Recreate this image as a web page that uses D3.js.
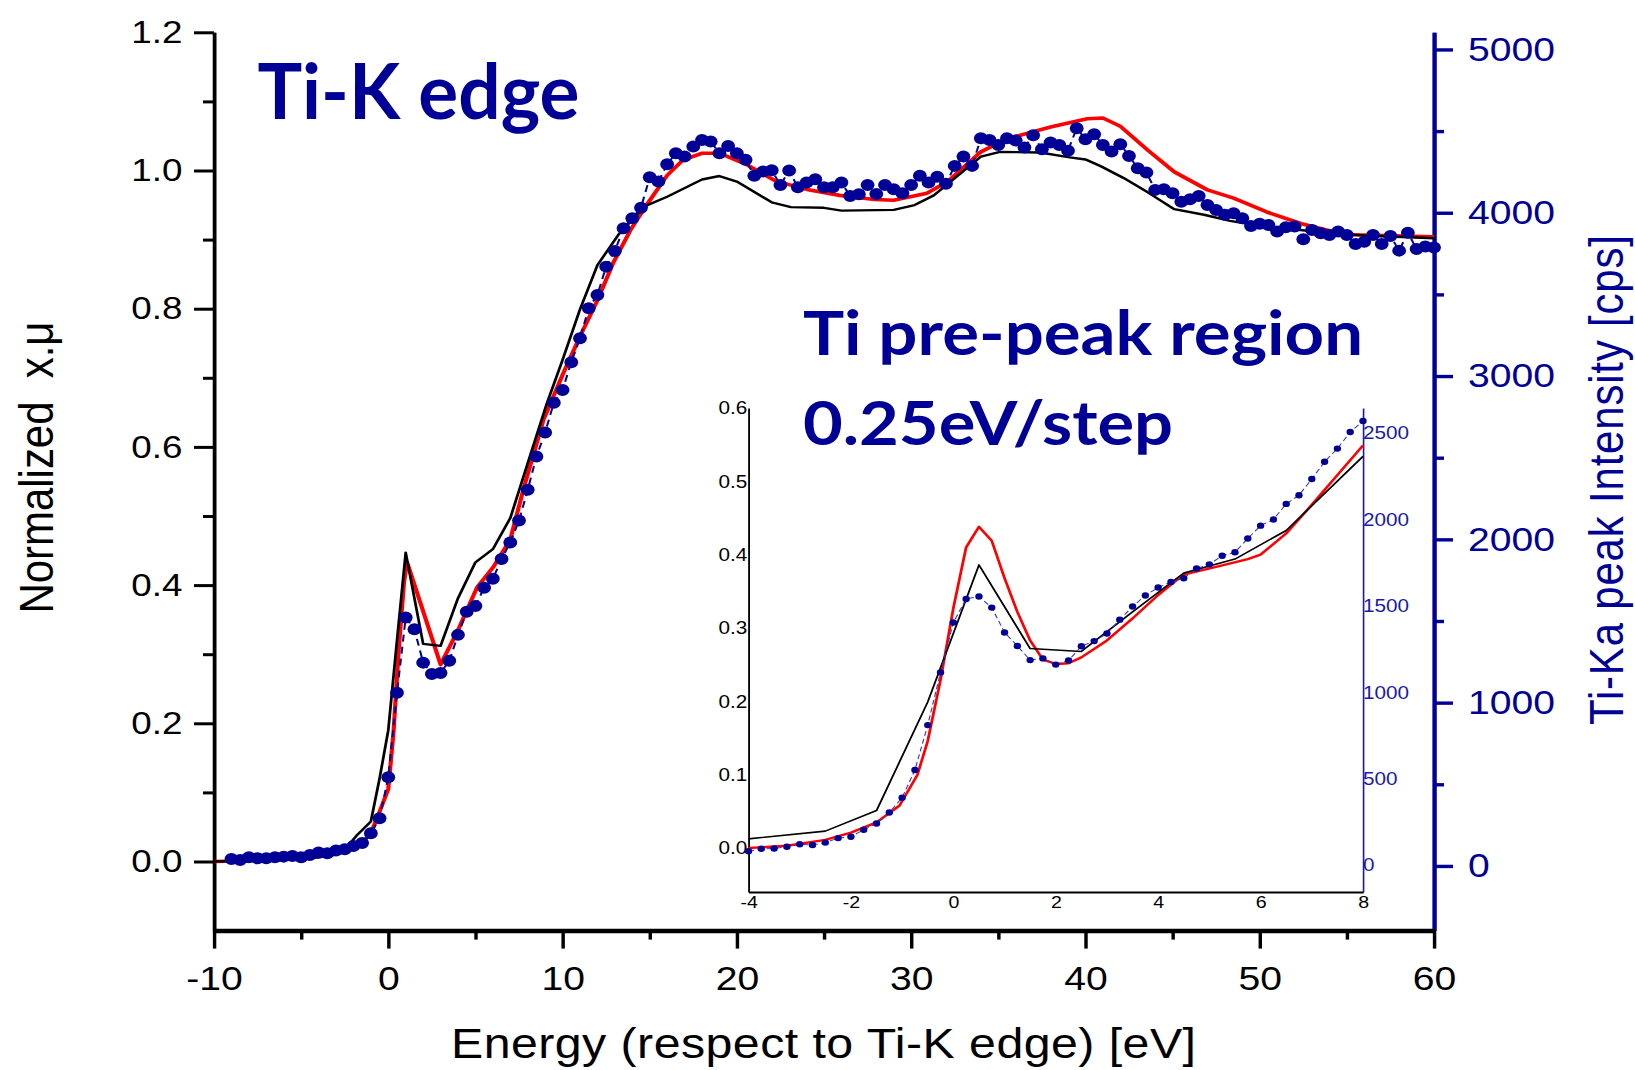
<!DOCTYPE html>
<html>
<head>
<meta charset="utf-8">
<script src="https://cdn.jsdelivr.net/npm/d3@7"></script>
<style>
  body { margin: 0; background: #fff; }
  svg { display: block; font-family: "Liberation Sans", Arial, sans-serif; }
</style>
</head>
<body>
<div class="chart"></div>
<script>
// ---- main plot data (energy in eV, normalized x.mu) ----
var blackMain = [[-10,0.0],[-6,0.002],[-4,0.006],[-3,0.01],[-2.5,0.017],[-1.8,0.038],[-1.0,0.058],[-0.5,0.12],
  [0,0.19],[0.5,0.32],[1.0,0.447],[2.0,0.315],[3.0,0.312],[4.0,0.381],[5.0,0.433],[6.0,0.452],[7.0,0.497],
  [8.3,0.60],[9.1,0.663],[10.0,0.726],[11.0,0.799],[12.0,0.863],[13.2,0.907],[14.7,0.948],[16.0,0.962],
  [18.0,0.987],[19.0,0.992],[20.0,0.984],[22.0,0.954],[23.1,0.947],[25.0,0.946],[26.0,0.942],[29.0,0.943],
  [30.2,0.950],[31.3,0.964],[32.7,0.993],[34.0,1.020],[35.1,1.027],[37.4,1.026],[39.1,1.019],[40.0,1.016],
  [40.9,1.006],[42.2,0.989],[43.6,0.968],[45.1,0.944],[46.8,0.936],[48.3,0.927],[50,0.92],[53,0.912],
  [56,0.906],[60,0.902]];

var redMain = [[-10,0.0],[-8,0.001],[-6,0.003],[-4,0.007],[-3,0.011],[-2,0.018],[-1.4,0.028],[-0.85,0.05],
  [-0.5,0.072],[0,0.105],[0.3,0.187],[0.6,0.307],[0.9,0.404],[1.08,0.433],[3.0,0.285],[3.95,0.332],
  [5.1,0.397],[6.05,0.427],[7.0,0.466],[7.8,0.543],[8.9,0.639],[10.05,0.707],[11.0,0.76],[12.0,0.812],
  [12.9,0.866],[13.9,0.914],[14.9,0.953],[16.0,0.993],[16.9,1.015],[18.0,1.025],[19.0,1.025],[20.6,1.008],
  [22.2,0.985],[24.1,0.972],[25.9,0.964],[27.9,0.958],[29.0,0.957],[30.9,0.967],[32.1,0.984],[34.0,1.027],
  [35.5,1.046],[38.0,1.063],[40.1,1.075],[41.0,1.076],[42.0,1.064],[43.6,1.029],[45.1,0.998],[47.0,0.972],
  [48.5,0.960],[50.4,0.940],[52.4,0.923],[54.3,0.911],[55.4,0.907],[60,0.904]];

// measured Ti-Ka intensity, cps (right axis)
var dotsMain = [[-9,43],[-8.5,37],[-8,53],[-7.5,47],[-7,47],[-6.5,53],[-6,57],[-5.5,61],[-5,53],[-4.5,67],
  [-4,82],[-3.5,78],[-3,94],[-2.5,102],[-2,122],[-1.5,141],[-1,200],[-0.5,292],[0,543],[0.5,1061],
  [1,1521],[1.5,1449],[2,1245],[2.5,1176],[3,1182],[3.5,1257],[4,1415],[4.5,1557],[5,1592],[5.5,1704],
  [6,1758],[6.5,1880],[7,1980],[7.5,2115],[8,2303],[8.5,2507],[9,2654],[9.5,2837],[10,2915],[10.5,3085],
  [11,3232],[11.5,3415],[12,3497],[12.5,3670],[13,3766],[13.5,3905],[14,3967],[14.5,4031],[15,4218],
  [15.5,4191],[16,4297],[16.5,4365],[17,4344],[17.5,4405],[18,4446],[18.5,4436],[19,4365],[19.5,4409],
  [20,4365],[20.5,4324],[21,4226],[21.5,4252],[22,4260],[22.5,4170],[23,4258],[23.5,4156],[24,4185],
  [24.5,4205],[25,4156],[25.5,4156],[26,4185],[26.5,4103],[27,4113],[27.5,4170],[28,4115],[28.5,4170],
  [29,4144],[29.5,4120],[30,4170],[30.5,4226],[31,4185],[31.5,4221],[32,4177],[32.5,4287],[33,4344],
  [33.5,4287],[34,4456],[34.5,4446],[35,4415],[35.5,4456],[36,4442],[36.5,4399],[37,4475],[37.5,4389],
  [38,4430],[38.5,4415],[39,4380],[39.5,4518],[40,4450],[40.5,4481],[41,4415],[41.5,4375],[42,4420],
  [42.5,4348],[43,4273],[43.5,4246],[44,4140],[44.5,4144],[45,4120],[45.5,4068],[46,4083],[46.5,4103],
  [47,4048],[47.5,4017],[48,3987],[48.5,3997],[49,3967],[49.5,3919],[50,3932],[50.5,3925],[51,3885],
  [51.5,3911],[52,3915],[52.5,3838],[53,3895],[53.5,3875],[54,3864],[54.5,3885],[55,3864],[55.5,3809],
  [56,3823],[56.5,3864],[57,3809],[57.5,3858],[58,3768],[58.5,3878],[59,3778],[59.5,3793],[60,3787]];

// ---- inset data (pre-peak region, 0.25 eV/step) ----
var blackInset = [[-4,0.0125],[-2.5,0.023],[-1.5,0.051],[-0.5,0.199],[0.5,0.386],[1.5,0.272],[2.5,0.268],
  [3.5,0.322],[4.5,0.375],[5.5,0.394],[6.5,0.433],[8,0.534]];

var redInset = [[-4,0.0],[-3.25,0.003],[-2.5,0.011],[-2,0.021],[-1.5,0.035],[-1.05,0.058],[-0.7,0.10],
  [-0.5,0.146],[-0.25,0.229],[0,0.327],[0.25,0.41],[0.5,0.438],[0.75,0.419],[1.0,0.368],[1.25,0.322],
  [1.5,0.283],[1.75,0.257],[2.0,0.251],[2.25,0.252],[2.5,0.26],[3.0,0.283],[3.5,0.313],[4.0,0.345],
  [4.5,0.373],[5.05,0.382],[5.75,0.394],[6.0,0.40],[6.5,0.429],[7.0,0.468],[8.0,0.549]];

var dotsInset = [[-4,80],[-3.75,94],[-3.5,96],[-3.25,106],[-3,120],[-2.75,116],[-2.5,130],[-2.25,156],
  [-2,164],[-1.75,204],[-1.5,240],[-1.25,304],[-1,390],[-0.75,550],[-0.5,810],[-0.25,1114],[0,1404],
  [0.25,1540],[0.5,1554],[0.75,1490],[1,1346],[1.25,1268],[1.5,1186],[1.75,1196],[2,1160],[2.25,1184],
  [2.5,1266],[2.75,1296],[3,1340],[3.25,1420],[3.5,1496],[3.75,1560],[4,1606],[4.25,1638],[4.5,1660],
  [4.75,1716],[5,1740],[5.25,1790],[5.5,1810],[5.75,1890],[6,1964],[6.25,2000],[6.5,2090],[6.75,2140],
  [7,2234],[7.25,2334],[7.5,2410],[7.75,2506],[8,2570]];

// ---- tick values ----
var xTicks = [-10, 0, 10, 20, 30, 40, 50, 60];
var xMinor = [-5, 5, 15, 25, 35, 45, 55];
var yTicks = [0, 0.2, 0.4, 0.6, 0.8, 1.0, 1.2];
var yMinor = [0.1, 0.3, 0.5, 0.7, 0.9, 1.1];
var cpsTicks = [0, 1000, 2000, 3000, 4000, 5000];
var cpsMinor = [500, 1500, 2500, 3500, 4500];
var insetXTicks = [-4, -2, 0, 2, 4, 6, 8];
var insetYTicks = [0, 0.1, 0.2, 0.3, 0.4, 0.5, 0.6];
var insetCpsTicks = [0, 500, 1000, 1500, 2000, 2500];

var svgWidth = 1635;
var svgHeight = 1070;
var SX = 1.15; // the original picture is stretched sideways; draw narrow and stretch
var blue = "#000096";

// plain hyphen minus, no thousands separator (like the original)
var plain = function(d) { return String(d); };

var svg = d3.select(".chart")
  .append("svg")
  .attr("width", svgWidth)
  .attr("height", svgHeight)
  .append("g")
  .attr("transform", "scale(" + SX + ",1)");

// scales
var xMain = d3.scaleLinear().domain([-10, 60]).range([214 / SX, 1434 / SX]);
var yMain = d3.scaleLinear().domain([-0.1, 1.2]).range([930.6, 32.3]);
var yCps = d3.scaleLinear().domain([-396, 5105]).range([930.6, 32.3]);

var xIn = d3.scaleLinear().domain([-4, 8]).range([748.5 / SX, 1363 / SX]);
var yIn = d3.scaleLinear().domain([-0.06, 0.6]).range([892, 408]);
var yInCps = d3.scaleLinear().domain([-156, 2645]).range([892, 408]);

function styleAxis(g, color, width, fontSize) {
  g.select(".domain").attr("stroke", color).attr("stroke-width", width);
  g.selectAll(".tick line").attr("stroke", color).attr("stroke-width", width);
  g.selectAll(".tick text").attr("fill", color).style("font-size", fontSize + "px")
    .style("font-family", '"Liberation Sans", Arial, sans-serif');
}

// ---- main axes ----
var gLeftMinor = svg.append("g").attr("transform", "translate(" + xMain.range()[0] + ",0)")
  .call(d3.axisLeft(yMain).tickValues(yMinor).tickSize(9.6).tickSizeOuter(0).tickFormat(""));
styleAxis(gLeftMinor, "#000", 3, 32);
var gLeft = svg.append("g").attr("transform", "translate(" + xMain.range()[0] + ",0)")
  .call(d3.axisLeft(yMain).tickValues(yTicks).tickSize(17.4).tickPadding(10).tickSizeOuter(0)
    .tickFormat(d3.format(".1f")));
styleAxis(gLeft, "#000", 3, 32);

var gRightMinor = svg.append("g").attr("transform", "translate(" + xMain.range()[1] + ",0)")
  .call(d3.axisRight(yCps).tickValues(cpsMinor).tickSize(8.7).tickSizeOuter(0).tickFormat(""));
styleAxis(gRightMinor, blue, 3.4, 34);
var gRight = svg.append("g").attr("transform", "translate(" + xMain.range()[1] + ",0)")
  .call(d3.axisRight(yCps).tickValues(cpsTicks).tickSize(16.5).tickPadding(13).tickSizeOuter(0)
    .tickFormat(plain));
styleAxis(gRight, blue, 3.4, 34);

var gBottomMinor = svg.append("g").attr("transform", "translate(0," + yMain.range()[0] + ")")
  .call(d3.axisBottom(xMain).tickValues(xMinor).tickSize(9).tickSizeOuter(0).tickFormat(""));
styleAxis(gBottomMinor, "#000", 3, 34);
var gBottom = svg.append("g").attr("transform", "translate(0," + yMain.range()[0] + ")")
  .call(d3.axisBottom(xMain).tickValues(xTicks).tickSize(18).tickPadding(17).tickSizeOuter(0)
    .tickFormat(plain));
styleAxis(gBottom, "#000", 3, 34);
gBottom.select(".domain").attr("stroke-width", 4.5);

// ---- main curves ----
var lineMain = d3.line().x(function(d) { return xMain(d[0]); }).y(function(d) { return yMain(d[1]); });
var lineCps = d3.line().x(function(d) { return xMain(d[0]); }).y(function(d) { return yCps(d[1]); });

svg.append("path").datum(redMain).attr("d", lineMain)
  .attr("fill", "none").attr("stroke", "#ff0000").attr("stroke-width", 3.6).attr("stroke-linejoin", "round");
svg.append("path").datum(blackMain).attr("d", lineMain)
  .attr("fill", "none").attr("stroke", "#000").attr("stroke-width", 2.4).attr("stroke-linejoin", "round");
svg.append("path").datum(dotsMain).attr("d", lineCps)
  .attr("fill", "none").attr("stroke", blue).attr("stroke-width", 1.8).attr("stroke-dasharray", "7,5");
svg.append("g").selectAll("circle")
  .data(dotsMain)
  .enter().append("circle")
    .attr("cx", function(d) { return xMain(d[0]); })
    .attr("cy", function(d) { return yCps(d[1]); })
    .attr("r", 6)
    .attr("fill", blue);

// ---- inset ----
var gInLeft = svg.append("g").attr("transform", "translate(" + xIn.range()[0] + ",0)")
  .call(d3.axisLeft(yIn).tickValues(insetYTicks).tickSize(0).tickPadding(1).tickSizeOuter(0)
    .tickFormat(d3.format(".1f")));
styleAxis(gInLeft, "#000", 1.6, 18);
var gInRight = svg.append("g").attr("transform", "translate(" + xIn.range()[1] + ",0)")
  .call(d3.axisRight(yInCps).tickValues(insetCpsTicks).tickSize(0).tickPadding(0).tickSizeOuter(0)
    .tickFormat(plain));
styleAxis(gInRight, "#1a1aa8", 1.4, 18);
var gInBottom = svg.append("g").attr("transform", "translate(0," + yIn.range()[0] + ")")
  .call(d3.axisBottom(xIn).tickValues(insetXTicks).tickSize(0).tickPadding(3.6).tickSizeOuter(0)
    .tickFormat(plain));
styleAxis(gInBottom, "#000", 2.2, 17);

var lineIn = d3.line().x(function(d) { return xIn(d[0]); }).y(function(d) { return yIn(d[1]); });
var lineInCps = d3.line().x(function(d) { return xIn(d[0]); }).y(function(d) { return yInCps(d[1]); });

svg.append("path").datum(redInset).attr("d", lineIn)
  .attr("fill", "none").attr("stroke", "#ff0000").attr("stroke-width", 2.4).attr("stroke-linejoin", "round");
svg.append("path").datum(blackInset).attr("d", lineIn)
  .attr("fill", "none").attr("stroke", "#000").attr("stroke-width", 1.6).attr("stroke-linejoin", "round");
svg.append("path").datum(dotsInset).attr("d", lineInCps)
  .attr("fill", "none").attr("stroke", "#3a3ab8").attr("stroke-width", 1).attr("stroke-dasharray", "5,3");
svg.append("g").selectAll("circle")
  .data(dotsInset)
  .enter().append("circle")
    .attr("cx", function(d) { return xIn(d[0]); })
    .attr("cy", function(d) { return yInCps(d[1]); })
    .attr("r", 3.2)
    .attr("fill", blue);

// ---- titles ----
var boldFont = 'Lato, "Open Sans", sans-serif';
svg.append("text")
  .attr("x", 257.5 / SX).attr("y", 119)
  .attr("textLength", 322 / SX).attr("lengthAdjust", "spacingAndGlyphs")
  .style("font-family", boldFont).style("font-weight", 700).style("font-size", "77px")
  .attr("fill", blue)
  .text("Ti-K edge");

svg.append("text")
  .attr("x", 803 / SX).attr("y", 355)
  .attr("textLength", 560 / SX).attr("lengthAdjust", "spacingAndGlyphs")
  .style("font-family", boldFont).style("font-weight", 700).style("font-size", "61px")
  .attr("fill", blue)
  .text("Ti pre-peak region");

svg.append("text")
  .attr("x", 803 / SX).attr("y", 445)
  .attr("textLength", 370 / SX).attr("lengthAdjust", "spacingAndGlyphs")
  .style("font-family", boldFont).style("font-weight", 700).style("font-size", "61px")
  .attr("fill", blue)
  .text("0.25eV/step");

// axis titles
svg.append("text")
  .attr("x", 823.5 / SX).attr("y", 1058)
  .attr("text-anchor", "middle")
  .attr("textLength", 745 / SX)
  .style("font-size", "42px")
  .text("Energy (respect to Ti-K edge) [eV]");

svg.append("text")
  .attr("transform", "translate(" + (53.3 / SX) + ",467.5) rotate(-90)")
  .attr("text-anchor", "middle")
  .attr("textLength", 292)
  .style("font-size", "42px")
  .text("Normalized\u00a0 x.\u03bc");

svg.append("text")
  .attr("transform", "translate(" + (1622.7 / SX) + ",480) rotate(-90)")
  .attr("text-anchor", "middle")
  .attr("textLength", 490)
  .attr("fill", blue)
  .style("font-size", "42px")
  .text("Ti-Ka peak Intensity [cps]");
</script>
</body>
</html>
